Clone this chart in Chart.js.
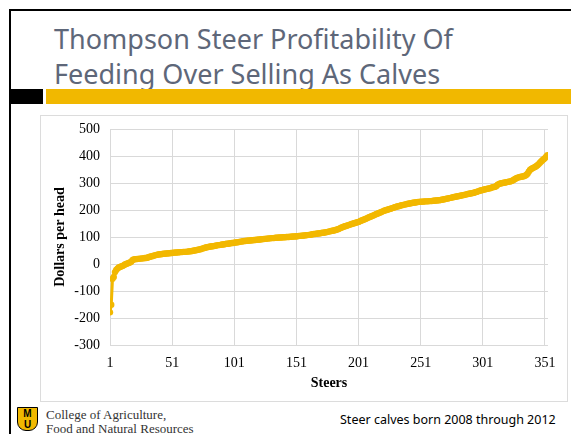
<!DOCTYPE html>
<html>
<head>
<meta charset="utf-8">
<script src="https://cdn.jsdelivr.net/npm/chart.js@4.4.0/dist/chart.umd.min.js"></script>
<style>
  body { margin: 0; background: #fff; }
  #slide { position: relative; width: 571px; height: 434px; overflow: hidden; background: #fff; }
  .frameTop { position: absolute; left: 9px; top: 9px; width: 562px; height: 2px; background: #000; }
  .frameLeft { position: absolute; left: 9px; top: 9px; width: 2px; height: 425px; background: #000; }
  .blackBar { position: absolute; left: 9px; top: 89px; width: 34px; height: 15px; background: #000; }
  .goldBar { position: absolute; left: 46px; top: 89px; width: 525px; height: 15px; background: #F1B800; }
  .title { position: absolute; left: 54px; font-family: "Noto Sans"; font-size: 27px; color: #5E6779; white-space: nowrap; line-height: 1; }
  #chartBox { position: absolute; left: 40px; top: 115px; width: 526px; height: 285px; border: 1px solid #dcdcdc; }
  .college { position: absolute; left: 46px; font-family: "Liberation Serif"; font-size: 13px; color: #333; white-space: nowrap; line-height: 1; }
  .note { position: absolute; left: 340px; top: 414px; font-family: "Noto Sans"; font-size: 12.5px; color: #000; white-space: nowrap; line-height: 1; }
  .logo { position: absolute; left: 17px; top: 407px; width: 21px; height: 24px; background: #F1B800; border: 1.5px solid #000; border-radius: 0 0 9px 9px;
          font: bold 10px "Liberation Sans"; color: #000; text-align: center; line-height: 11px; box-sizing: border-box; }
</style>
</head>
<body>
<div id="slide">
  <div class="frameTop"></div>
  <div class="frameLeft"></div>
  <div class="title" style="top:25px">Thompson Steer Profitability Of</div>
  <div class="title" style="top:60px">Feeding Over Selling As Calves</div>
  <div class="blackBar"></div>
  <div class="goldBar"></div>
  <div id="chartBox"><canvas id="myChart" width="526" height="285"></canvas></div>
  <div class="logo">M<br>U</div>
  <div class="college" style="top:408px">College of Agriculture,</div>
  <div class="college" style="top:422px">Food and Natural Resources</div>
  <div class="note">Steer calves born 2008 through 2012</div>
</div>
<script>
// profit per steer, sorted low to high (steer 1 .. 353)
const profit = [
  -179, -151, -55, -48, -30, -22, -17, -13, -11, -9,
  -7, -5, -2, 0, 2, 4, 6, 8, 14, 17,
  18, 18, 19, 19, 20, 20, 21, 21, 22, 22,
  23, 25, 27, 28, 29, 31, 32, 33, 34, 35,
  36, 36, 37, 38, 38, 39, 39, 40, 40, 41,
  41, 42, 42, 43, 43, 43, 44, 44, 44, 45,
  45, 45, 46, 46, 47, 47, 48, 49, 50, 51,
  52, 53, 54, 55, 57, 58, 59, 61, 62, 63,
  64, 65, 66, 66, 67, 68, 69, 70, 70, 71,
  72, 72, 73, 74, 75, 75, 76, 77, 78, 78,
  79, 80, 80, 81, 82, 83, 83, 84, 85, 85,
  86, 86, 87, 87, 88, 88, 89, 89, 90, 90,
  91, 91, 92, 92, 93, 93, 94, 94, 95, 95,
  96, 96, 96, 97, 97, 97, 98, 98, 98, 99,
  99, 99, 100, 100, 100, 101, 101, 102, 102, 102,
  103, 103, 104, 104, 105, 105, 106, 106, 107, 107,
  108, 108, 109, 110, 111, 111, 112, 113, 113, 114,
  115, 116, 116, 117, 118, 119, 120, 121, 122, 123,
  124, 125, 127, 128, 130, 132, 134, 136, 138, 140,
  141, 143, 144, 146, 147, 149, 150, 152, 153, 155,
  156, 158, 160, 162, 164, 166, 168, 170, 172, 174,
  176, 178, 180, 182, 184, 186, 188, 190, 192, 194,
  196, 198, 199, 201, 202, 204, 205, 207, 208, 210,
  211, 213, 214, 215, 217, 218, 219, 220, 221, 222,
  223, 224, 225, 226, 227, 228, 228, 229, 230, 230,
  231, 231, 231, 232, 232, 232, 232, 233, 233, 233,
  234, 234, 235, 235, 236, 236, 237, 238, 239, 240,
  241, 242, 243, 244, 245, 246, 247, 248, 249, 250,
  251, 252, 253, 254, 255, 256, 257, 258, 259, 260,
  261, 262, 263, 264, 266, 267, 269, 270, 272, 273,
  274, 276, 277, 278, 279, 280, 281, 283, 284, 285,
  286, 289, 294, 296, 298, 299, 300, 301, 302, 303,
  304, 305, 306, 307, 309, 312, 315, 318, 320, 321,
  322, 323, 324, 325, 327, 330, 334, 342, 348, 352,
  355, 357, 359, 362, 366, 370, 375, 380, 384, 388,
  392, 397, 403
];
const steerTicks = [1, 51, 101, 151, 201, 251, 301, 351];
const dollarTicks = [-300, -200, -100, 0, 100, 200, 300, 400, 500];

const points = profit.map((v, i) => ({ x: i + 1, y: v }));
const serif = { family: 'Liberation Serif', size: 14 };
const gold = '#F2B800';

const ctx = document.getElementById('myChart');
const myChart = new Chart(ctx, {
  type: 'line',
  data: {
    datasets: [{
      label: 'Profit',
      data: points,
      borderColor: gold,
      backgroundColor: gold,
      borderWidth: 3,
      pointRadius: 3.2,
      pointBorderWidth: 0,
      pointBackgroundColor: gold,
      tension: 0
    }]
  },
  options: {
    responsive: false,
    animation: false,
    layout: { padding: { left: 0, right: 19, top: 13, bottom: 0 } },
    plugins: { legend: { display: false }, tooltip: { enabled: false } },
    scales: {
      x: {
        type: 'linear',
        min: 1,
        max: 353.5,
        afterBuildTicks: s => { s.ticks = steerTicks.map(v => ({ value: v })); },
        afterFit: s => { s.height = 56; },
        grid: { color: '#d9d9d9', drawTicks: false },
        border: { display: false },
        ticks: { color: '#000', font: serif, padding: 10, maxRotation: 0, autoSkip: false },
        title: { display: true, text: 'Steers', color: '#000', font: { family: 'Liberation Serif', size: 14, weight: 'bold' }, padding: { top: 0, bottom: 9 } }
      },
      y: {
        min: -300,
        max: 500,
        afterBuildTicks: s => { s.ticks = dollarTicks.map(v => ({ value: v })); },
        afterFit: s => { s.width = 69; s.paddingTop = 0; s.paddingBottom = 0; },
        grid: { color: '#d9d9d9', drawTicks: false },
        border: { display: false },
        ticks: { color: '#000', font: serif, padding: 10 },
        title: { display: true, text: 'Dollars per head', color: '#000', font: { family: 'Liberation Serif', size: 14, weight: 'bold' }, padding: { top: 11, bottom: 0 } }
      }
    }
  }
});
</script>
</body>
</html>
